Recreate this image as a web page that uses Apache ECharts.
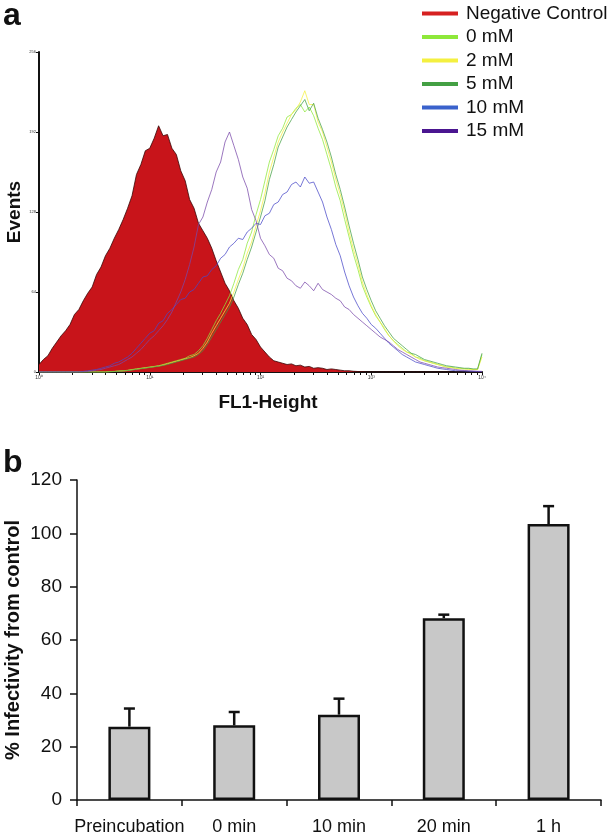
<!DOCTYPE html>
<html>
<head>
<meta charset="utf-8">
<script src="https://cdn.jsdelivr.net/npm/echarts@6/dist/echarts.min.js"></script>
<style>
  html, body { margin: 0; padding: 0; background: #fff; }
  #chart { width: 612px; height: 835px; }
</style>
</head>
<body>
<div id="chart"></div>
<script>
// panel a: flow cytometry histograms, channels on log10 scale 10^0..10^4 (step 0.04 decade)
var binStep = 0.04
var bins = []
for (var i = 0; i <= 100; i++) bins.push(+(i * binStep).toFixed(2))

var histNames = ['Negative Control', '0 mM', '2 mM', '5 mM', '10 mM', '15 mM']
var histColors = ['#d62020', '#8ee83a', '#f4f040', '#44a044', '#3a62cc', '#4a1590']

var negControl = [6, 10, 13, 19, 24, 29, 33, 38, 46, 50, 57, 63, 68, 78, 84, 93, 99, 107, 114, 122,
  131, 141, 158, 166, 177, 179, 187, 197, 189, 190, 179, 174, 161, 153, 138, 131, 119, 113, 107, 99,
  89, 80, 71, 65, 57, 51, 43, 38, 30, 26, 20, 16, 12, 9, 8, 7, 6, 6.5, 5, 5.5,
  4, 4.5, 3, 3.5, 3, 2, 2.5, 2, 1.5, 1, 1, 0.6, 0.4, 0.2, 0, 0, 0, 0, 0, 0,
  0, 0, 0, 0, 0, 0, 0, 0, 0, 0, 0, 0, 0, 0, 0, 0, 0, 0, 0, 0, 0]
var mM0 = [0, 0, 0, 0, 0, 0, 0, 0, 0, 0, 0, 0, 0, 0, 0, 0, 0.3, 0.5, 0.8, 1,
  1.4, 2, 2.5, 3, 3.5, 4, 4.5, 5, 6, 7, 8, 9, 10, 11, 13, 14, 17, 21, 27, 34,
  41, 47, 54, 61, 71, 82, 90, 103, 112, 126, 138, 153, 168, 178, 189, 195, 204, 206, 211, 214,
  208, 212, 205, 195, 186, 174, 162, 148, 137, 122, 108, 94, 82, 69, 60, 52, 45, 40, 34, 29,
  25, 22, 19, 16, 15, 12, 11, 9, 8, 7, 6, 5, 4, 4, 3, 3, 2.5, 2.5, 2, 2, 14]
var mM2 = [0, 0, 0, 0, 0, 0, 0, 0, 0, 0, 0, 0, 0, 0, 0, 0, 0.2, 0.4, 0.7, 0.9,
  1.2, 1.8, 2.3, 2.8, 3.3, 3.8, 4.3, 4.8, 5.5, 6.5, 7.5, 8.5, 9.5, 10.5, 11.5, 13, 15, 19, 24, 31,
  37, 43, 49, 55, 64, 74, 83, 95, 104, 117, 129, 143, 160, 172, 184, 192, 199, 206, 210, 216,
  225, 214, 214, 200, 192, 180, 168, 154, 142, 128, 112, 98, 86, 72, 62, 53, 46, 40, 35, 29,
  25, 21, 18, 16, 14, 12, 10, 9, 8, 7, 6, 5, 4, 3.5, 3, 2.5, 2.5, 2, 2, 2, 12]
var mM5 = [0, 0, 0, 0, 0, 0, 0, 0, 0, 0, 0, 0, 0, 0, 0, 0, 0.2, 0.3, 0.6, 0.8,
  1.1, 1.6, 2.1, 2.6, 3.1, 3.6, 4.1, 4.6, 5.2, 6, 7, 8, 9, 10, 11, 12, 14, 17, 22, 28,
  34, 40, 46, 52, 60, 70, 79, 90, 100, 112, 124, 137, 154, 166, 180, 188, 196, 202, 208, 213,
  218, 209, 215, 203, 194, 184, 172, 158, 146, 132, 117, 103, 90, 76, 66, 57, 49, 43, 37, 32,
  27, 24, 21, 18, 15, 14, 12, 10, 9, 8, 7, 6, 5, 4.5, 4, 3.5, 3, 3, 2.5, 2.5, 15]
var mM10 = [0, 0, 0, 0, 0, 0, 0, 0, 0, 0, 0.5, 1, 1.5, 2, 3, 4, 5, 7, 8, 10,
  12, 15, 19, 23, 27, 31, 33, 39, 41, 47, 50, 54, 58, 59, 64, 66, 71, 76, 77, 82,
  85, 91, 94, 100, 103, 107, 106, 112, 115, 119, 118, 125, 127, 134, 136, 142, 144, 150, 152, 148,
  156, 151, 152, 144, 136, 124, 114, 102, 93, 80, 69, 60, 53, 47, 43, 38, 35, 31, 27, 23,
  20, 17, 14, 12, 10, 8, 7, 6, 5, 4, 3, 2.5, 2, 1.5, 1, 1, 0.8, 0.6, 0.5, 0.4, 0.3]
var mM15 = [0, 0, 0, 0, 0, 0, 0, 0, 0, 0, 0, 0.5, 1, 1.5, 2, 3, 4, 5, 6, 8,
  10, 12, 15, 18, 22, 26, 29, 33, 37, 42, 48, 56, 64, 74, 86, 100, 118, 124, 136, 146,
  160, 168, 184, 192, 181, 170, 156, 147, 130, 121, 107, 101, 94, 91, 83, 81, 75, 73, 69, 67,
  72, 69, 65, 71, 66, 64, 62, 59, 57, 52, 50, 46, 43, 40, 37, 34, 31, 28, 26, 24,
  21, 18, 16, 14, 12, 10, 8, 7, 6, 5, 4, 3.5, 3, 2.5, 2, 1.5, 1.2, 1, 0.8, 0.6, 0.5]
var histValues = [negControl, mM0, mM2, mM5, mM10, mM15]
var decadeLabels = ['10\u2070', '10\u00b9', '10\u00b2', '10\u00b3', '10\u2074']

// panel b: infectivity bars
var timeCats = ['Preincubation', '0 min', '10 min', '20 min', '1 h']
var infectivity = [27.5, 28, 32, 68.2, 103.5]
var infectivityErr = [6.8, 5, 6, 1.3, 6.7]

var font = 'Liberation Sans, Arial, sans-serif'

// log-style minor ticks for the FL1 axis
var fl1Ticks = []
for (var d = 0; d < 4; d++) {
  for (var k = 1; k <= 9; k++) fl1Ticks.push(d + Math.log10(k))
}
fl1Ticks.push(4)

function pairs(vals) {
  return vals.map(function (v, i) { return [bins[i], v] })
}

var series = histNames.map(function (name, idx) {
  var s = {
    name: name,
    type: 'line',
    xAxisIndex: 0,
    yAxisIndex: 0,
    data: pairs(histValues[idx]),
    showSymbol: false,
    symbol: 'none',
    animation: false,
    itemStyle: { color: histColors[idx] },
    lineStyle: { color: histColors[idx], width: 1, opacity: 0.75 },
    z: 3 + idx
  }
  if (idx === 0) {
    s.lineStyle = { color: '#3a0808', width: 0.8, opacity: 1 }
    s.areaStyle = { color: '#c8141a', opacity: 1 }
    s.z = 2
  }
  if (idx === 5) s.lineStyle.color = '#7a4aaa'
  if (idx === 4) s.lineStyle.color = '#4a4ac8'
  return s
})

series.push({
  name: 'infectivity',
  type: 'bar',
  xAxisIndex: 1,
  yAxisIndex: 1,
  data: infectivity,
  barWidth: 42,
  animation: false,
  itemStyle: { color: '#c8c8c8', borderColor: '#111', borderWidth: 2.5 },
  z: 2
})

series.push({
  name: 'sem',
  type: 'custom',
  xAxisIndex: 1,
  yAxisIndex: 1,
  animation: false,
  z: 3,
  data: infectivity.map(function (v, i) { return [i, v, v + infectivityErr[i]] }),
  renderItem: function (params, api) {
    var base = api.coord([api.value(0), api.value(1)])
    var top = api.coord([api.value(0), api.value(2)])
    var st = { stroke: '#111', lineWidth: 2.5 }
    return {
      type: 'group',
      children: [
        { type: 'line', shape: { x1: base[0], y1: base[1], x2: base[0], y2: top[1] }, style: st },
        { type: 'line', shape: { x1: base[0] - 5.5, y1: top[1], x2: base[0] + 5.5, y2: top[1] }, style: st }
      ]
    }
  }
})

var chart = echarts.init(document.getElementById('chart'))
chart.setOption({
  backgroundColor: '#fff',
  textStyle: { fontFamily: font },
  legend: {
    data: histNames,
    orient: 'vertical',
    left: 422,
    top: 4,
    padding: 0,
    itemGap: 4.5,
    itemWidth: 36,
    itemHeight: 4,
    icon: 'rect',
    selectedMode: false,
    textStyle: { fontSize: 19, color: '#111', fontFamily: font, lineHeight: 19, padding: [0, 0, 0, 3] }
  },
  grid: [
    { left: 39, top: 52, width: 443, height: 320, outerBoundsMode: 'none' },
    { left: 77, top: 480, width: 524, height: 320, outerBoundsMode: 'none' }
  ],
  xAxis: [
    {
      type: 'value',
      gridIndex: 0,
      min: 0,
      max: 4,
      interval: 1,
      name: 'FL1-Height',
      nameLocation: 'middle',
      nameGap: 21,
      nameMoveOverlap: false,
      nameTextStyle: { fontSize: 19, fontWeight: 'bold', color: '#111', padding: [0, 0, 0, 15] },
      axisLine: { lineStyle: { color: '#111', width: 2 } },
      axisTick: { show: true, length: 3, customValues: fl1Ticks, lineStyle: { color: '#111', width: 1 } },
      axisLabel: {
        fontSize: 5, color: '#333', margin: 3,
        formatter: function (v) { return decadeLabels[Math.round(v)] }
      },
      splitLine: { show: false }
    },
    {
      type: 'category',
      gridIndex: 1,
      data: timeCats,
      axisLine: { lineStyle: { color: '#111', width: 1.5 } },
      axisTick: { show: true, length: 6, lineStyle: { color: '#111', width: 1.5 } },
      axisLabel: { fontSize: 18, color: '#111', margin: 18, interval: 0, hideOverlap: false },
      splitLine: { show: false }
    }
  ],
  yAxis: [
    {
      type: 'value',
      gridIndex: 0,
      min: 0,
      max: 256,
      interval: 64,
      name: 'Events',
      nameLocation: 'middle',
      nameGap: 15,
      nameMoveOverlap: false,
      nameTextStyle: { fontSize: 19, fontWeight: 'bold', color: '#111' },
      axisLine: { show: true, lineStyle: { color: '#111', width: 2 } },
      axisTick: { show: true, length: 3, lineStyle: { color: '#111', width: 1 } },
      axisLabel: { fontSize: 4, color: '#333', margin: 3 },
      splitLine: { show: false }
    },
    {
      type: 'value',
      gridIndex: 1,
      min: 0,
      max: 120,
      interval: 20,
      name: '% Infectivity from control',
      nameLocation: 'middle',
      nameGap: 54,
      nameMoveOverlap: false,
      nameTextStyle: { fontSize: 20, fontWeight: 'bold', color: '#111' },
      axisLine: { show: true, lineStyle: { color: '#111', width: 1.5 } },
      axisTick: { show: true, length: 7, lineStyle: { color: '#111', width: 1.5 } },
      axisLabel: { fontSize: 19, color: '#111', margin: 15 },
      splitLine: { show: false }
    }
  ],
  graphic: [
    { type: 'text', left: 3, top: 0, style: { text: 'a', font: 'bold 32px ' + font, fill: '#111' } },
    { type: 'text', left: 3, top: 447, style: { text: 'b', font: 'bold 32px ' + font, fill: '#111' } }
  ],
  series: series
})
</script>
</body>
</html>
